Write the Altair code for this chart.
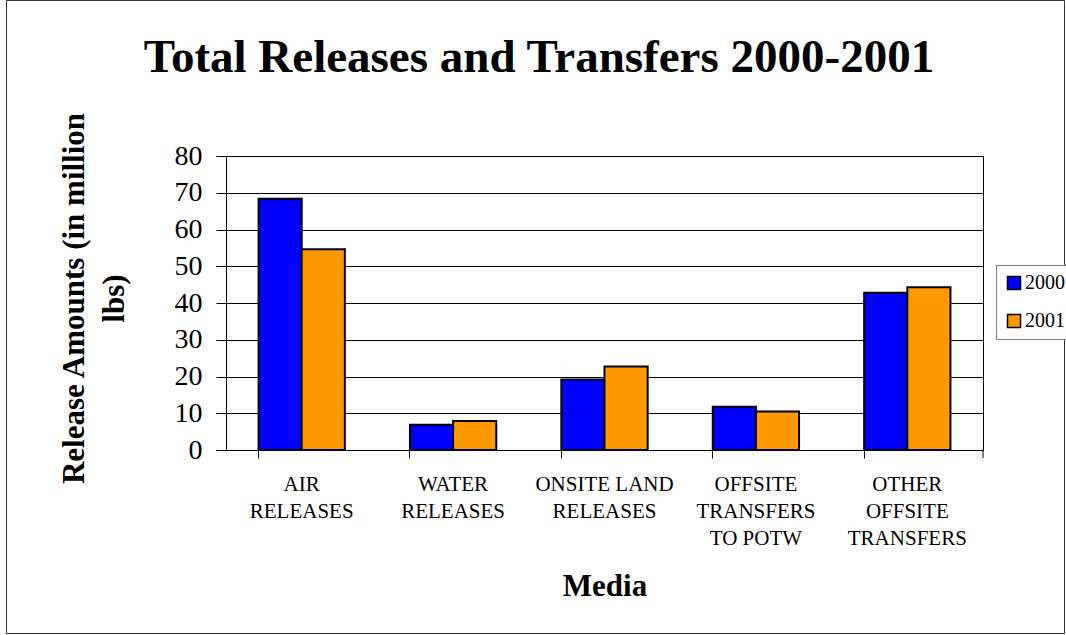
import altair as alt
import pandas as pd

# ---- data ----
categories = ["AIR|RELEASES", "WATER|RELEASES", "ONSITE LAND|RELEASES",
              "OFFSITE|TRANSFERS|TO POTW", "OTHER|OFFSITE|TRANSFERS"]
years = ["2000", "2001"]
values_2000 = [68.4, 6.9, 19.2, 11.8, 42.8]
values_2001 = [54.6, 7.9, 22.7, 10.5, 44.3]
colors = ["#0000FF", "#FF9900"]
y_ticks = [0, 10, 20, 30, 40, 50, 60, 70, 80]
title_text = "Total Releases and Transfers 2000-2001"
y_title = ["Release Amounts (in million", "lbs)"]
x_title = "Media"

rows = []
for c, a, b in zip(categories, values_2000, values_2001):
    rows.append({"media": c, "year": years[0], "value": a})
    rows.append({"media": c, "year": years[1], "value": b})
df = pd.DataFrame(rows)

W, H = 757, 294
L, T = 226, 156
FONT = "Liberation Serif"

bars = alt.Chart(df).mark_bar(stroke="black", strokeWidth=2).encode(
    x=alt.X("media:N", sort=categories,
            scale=alt.Scale(paddingInner=0.43, paddingOuter=0.215),
            axis=alt.Axis(title=x_title, labelExpr="split(datum.label, '|')",
                          bandPosition=0, labelAngle=0, labelFontSize=21,
                          labelLineHeight=27, labelBaseline="alphabetic",
                          labelPadding=32, tickSize=8, tickColor="black",
                          domainColor="black", labelColor="black",
                          labelFont=FONT, labelLimit=300,
                          titleFont=FONT, titleFontSize=31, titleFontWeight="bold",
                          titleColor="black", titleBaseline="alphabetic",
                          titleAlign="center", titleX=W / 2, titleY=145)),
    xOffset=alt.XOffset("year:N", sort=years),
    y=alt.Y("value:Q", scale=alt.Scale(domain=[0, 80], nice=False),
            axis=alt.Axis(values=y_ticks, title=y_title, grid=True,
                          gridColor="black", gridOpacity=1, gridWidth=1,
                          tickSize=10, tickColor="black", domainColor="black",
                          labelFont=FONT, labelFontSize=28, labelColor="black",
                          labelPadding=14, labelBaseline="middle",
                          titleFont=FONT, titleFontSize=31, titleFontWeight="bold",
                          titleColor="black", titleAngle=-90, titleAlign="center",
                          titleBaseline="alphabetic", titleLineHeight=40,
                          titleX=83 - L, titleY=298 - T)),
    color=alt.Color("year:N", scale=alt.Scale(domain=years, range=colors),
                    legend=alt.Legend(title=None, orient="none",
                                      legendX=996 - L, legendY=265 - T,
                                      symbolType="square", symbolSize=169,
                                      symbolStrokeColor="black", symbolStrokeWidth=1.5,
                                      symbolOpacity=1,
                                      labelFont=FONT, labelFontSize=20,
                                      labelColor="black", labelOffset=1,
                                      padding=8, rowPadding=18,
                                      strokeColor="#808080", fillColor="white")),
)

one = alt.Data(values=[{}])

border = alt.Chart(one).mark_rect(fillOpacity=0, stroke="#333333", strokeWidth=1).encode(
    x=alt.value(6.5 - L), x2=alt.value(1064.5 - L),
    y=alt.value(0.5 - T), y2=alt.value(633.5 - T),
)

end_tick = alt.Chart(one).mark_rule(color="black", strokeWidth=1).encode(
    x=alt.value(W), y=alt.value(H), y2=alt.value(H + 8),
)

title = alt.Chart(one).mark_text(
    font=FONT, fontSize=47, fontWeight="bold", color="black",
    align="center", baseline="alphabetic",
).encode(
    x=alt.value(539 - L), y=alt.value(71.7 - T), text=alt.value(title_text),
)

chart = (
    alt.layer(border, bars, end_tick, title)
    .properties(
        width=W, height=H,
        autosize="none",
        padding={"left": L, "top": T, "right": 1066 - L - W, "bottom": 635 - T - H},
    )
    .configure(font=FONT)
    .configure_axis(labelFont=FONT, titleFont=FONT)
    .configure_legend(labelFont=FONT, titleFont=FONT)
    .configure_text(font=FONT)
    .configure_view(stroke="black", strokeWidth=1)
)

chart.save("out.html", embed_options={"renderer": "svg", "actions": False})
